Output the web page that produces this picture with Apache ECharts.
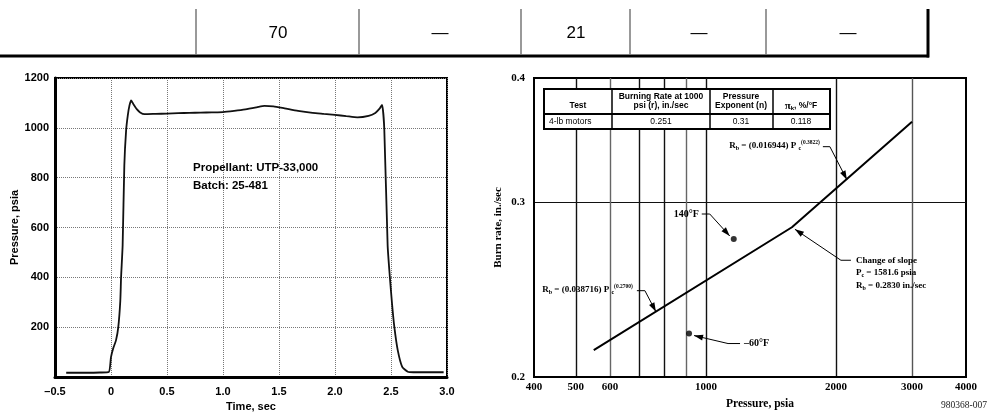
<!DOCTYPE html>
<html>
<head>
<meta charset="utf-8">
<script src="https://cdn.jsdelivr.net/npm/echarts@6/dist/echarts.min.js"></script>
<style>
  html, body { margin: 0; padding: 0; background: #fff; }
  #chart { width: 988px; height: 418px; }
</style>
</head>
<body>
<div id="chart"></div>
<script>
// Left panel: motor pressure trace
const timeSec = [-0.4, -0.3, -0.2, -0.1, -0.02, 0, 0.02, 0.045, 0.065, 0.083, 0.09, 0.104, 0.119, 0.135, 0.15, 0.165, 0.18, 0.2, 0.23, 0.26,
  0.3, 0.4, 0.5, 0.6, 0.7, 0.8, 0.9, 1.0, 1.1, 1.2, 1.3, 1.37, 1.45, 1.55, 1.67, 1.8, 1.9, 2.0, 2.1, 2.2,
  2.3, 2.36, 2.4, 2.42, 2.44, 2.47, 2.49, 2.51, 2.53, 2.56, 2.6, 2.65, 2.7, 2.8, 2.9, 2.97];
const pressurePsia = [17, 17, 17, 18, 20, 80, 115, 148, 200, 305, 400, 530, 850, 990, 1050, 1090, 1110, 1095, 1075, 1062,
  1055, 1056, 1057, 1059, 1060, 1061, 1062, 1063, 1068, 1074, 1082, 1088, 1086, 1078, 1068, 1060, 1056, 1052, 1047, 1042,
  1048, 1060, 1078, 1092, 996, 528, 400, 290, 200, 108, 41, 21, 19, 19, 19, 19];

// Right panel: burn rate vs pressure (log-log)
const burnFitP = [550, 1581.6, 3000];
const burnFitR = [0.2129, 0.2830, 0.3614];
const tempPointP = [1160, 914];
const tempPointR = [0.2754, 0.2212];
const pressureLabelTicks = [400, 500, 600, 1000, 2000, 3000, 4000];
const pressureGridTicks = [500, 600, 700, 800, 900, 1000, 2000, 3000];
const rateLabelTicks = [0.2, 0.3, 0.4];
const rateGridTicks = [0.3];

// Table fragment above the plots
const topRowValues = ['70', '—', '21', '—', '—'];

const SANS = '"Liberation Sans", Arial, sans-serif';
const SERIF = '"Liberation Serif", "Times New Roman", serif';

const chart = echarts.init(document.getElementById('chart'), null, { renderer: 'canvas' });

const leftLabel = { color: '#000', fontFamily: SANS, fontWeight: 'bold', fontSize: 11 };
const rightLabel = { color: '#000', fontFamily: SERIF, fontWeight: 'bold', fontSize: 11 };

chart.setOption({
  animation: false,
  backgroundColor: '#fff',
  grid: [
    { left: 55, top: 78, width: 392, height: 299, show: true, borderColor: '#000', borderWidth: 2 },
    { left: 534, top: 78, width: 432, height: 299, show: true, borderColor: '#000', borderWidth: 2 }
  ],
  xAxis: [
    {
      gridIndex: 0, type: 'value', min: -0.5, max: 3.0, interval: 0.5,
      name: 'Time, sec', nameLocation: 'middle', nameGap: 24,
      nameTextStyle: { ...leftLabel },
      axisLine: { onZero: false, lineStyle: { color: '#000', width: 3 } },
      axisTick: { show: false },
      axisLabel: { ...leftLabel, margin: 9, formatter: v => v === 0 ? '0' : v.toFixed(1).replace('-', '\u2013') },
      splitLine: { show: true, lineStyle: { color: '#777', type: 'dotted', width: 1 } }
    },
    {
      gridIndex: 1, type: 'log', logBase: 10, min: 400, max: 4000,
      name: 'Pressure, psia', nameLocation: 'middle', nameGap: 17,
      nameTextStyle: { ...rightLabel, fontSize: 11.5, padding: [0, 0, 0, 20] },
      axisLine: { onZero: false, lineStyle: { color: '#000', width: 2 } },
      axisTick: { show: false, customValues: pressureGridTicks },
      axisLabel: { ...rightLabel, margin: 5, customValues: pressureLabelTicks, formatter: v => String(Math.round(v)) },
      splitLine: { show: true, lineStyle: { color: ['#111', '#666', '#111', '#111', '#666', '#111', '#111', '#555'], width: 1.4 } },
      minorSplitLine: { show: false }
    }
  ],
  yAxis: [
    {
      gridIndex: 0, type: 'value', min: 0, max: 1200, interval: 200,
      name: 'Pressure, psia', nameLocation: 'middle', nameGap: 29,
      nameTextStyle: { ...leftLabel },
      axisLine: { show: true, onZero: false, lineStyle: { color: '#000', width: 3 } },
      axisTick: { show: false },
      axisLabel: { ...leftLabel, margin: 6, formatter: v => v === 0 ? '' : String(v) },
      splitLine: { show: true, lineStyle: { color: '#777', type: 'dotted', width: 1 } }
    },
    {
      gridIndex: 1, type: 'log', logBase: 10, min: 0.2, max: 0.4,
      name: 'Burn rate, in./sec', nameLocation: 'middle', nameGap: 30,
      nameTextStyle: { ...rightLabel },
      axisLine: { show: true, onZero: false, lineStyle: { color: '#000', width: 2 } },
      axisTick: { show: false, customValues: rateGridTicks },
      axisLabel: { ...rightLabel, margin: 9, customValues: rateLabelTicks, formatter: v => v.toFixed(1) },
      splitLine: { show: true, lineStyle: { color: '#111', width: 1.2 } },
      minorSplitLine: { show: false }
    }
  ],
  series: [
    {
      type: 'line', xAxisIndex: 0, yAxisIndex: 0, symbol: 'none', smooth: 0.2,
      lineStyle: { color: '#111', width: 1.8 },
      data: timeSec.map((t, i) => [t, pressurePsia[i]])
    },
    {
      type: 'line', xAxisIndex: 1, yAxisIndex: 1, symbol: 'none',
      lineStyle: { color: '#000', width: 2 },
      data: burnFitP.map((p, i) => [p, burnFitR[i]])
    },
    {
      type: 'scatter', xAxisIndex: 1, yAxisIndex: 1, symbol: 'circle', symbolSize: 6,
      itemStyle: { color: '#000' },
      data: tempPointP.map((p, i) => [p, tempPointR[i]])
    }
  ]
});

// ---- overlay: table fragment, inset table, notes and leader arrows ----
const graphics = [];

function line(x1, y1, x2, y2, color, width, z) {
  graphics.push({ type: 'line', z: z || 20, shape: { x1, y1, x2, y2 }, style: { stroke: color, lineWidth: width } });
}
function text(x, y, str, style, z) {
  graphics.push({ type: 'text', z: z || 21, x, y, style: Object.assign({ text: str, fill: '#000', verticalAlign: 'middle' }, style) });
}

// table fragment at the top
line(0, 56, 929, 56, '#000', 3);
[196, 359, 521, 630, 766].forEach(x => line(x, 9, x, 55, '#777', 1.5));
line(928, 9, 928, 57.5, '#000', 3);
const topCellCenters = [278, 440, 576, 699, 848];
topRowValues.forEach((v, i) => text(topCellCenters[i], 33, v, { font: '17px "Liberation Sans Narrow", ' + SANS, align: 'center' }));

// propellant note
text(193, 168, 'Propellant: UTP-33,000', { font: 'bold 11.5px ' + SANS, align: 'left' });
text(193, 186, 'Batch: 25-481', { font: 'bold 11.5px ' + SANS, align: 'left' });

// inset table
graphics.push({ type: 'rect', z: 18, shape: { x: 544, y: 89, width: 286, height: 40 }, style: { fill: '#fff', stroke: '#000', lineWidth: 2 } });
line(544, 114, 830, 114, '#000', 2, 19);
[612, 710, 773].forEach(x => line(x, 89, x, 129, '#000', 1.5, 19));
const th = { font: 'bold 8.5px ' + SANS, align: 'center' };
const td = { font: '8.5px ' + SANS, align: 'center' };
text(578, 106, 'Test', th);
text(661, 97, 'Burning Rate at 1000', th);
text(661, 106, 'psi (r), in./sec', th);
text(741, 97, 'Pressure', th);
text(741, 106, 'Exponent (n)', th);
graphics.push({
  type: 'text', z: 21, x: 801, y: 106,
  style: {
    text: '{p|\u03c0}{k|k}{t|, %/°F}', align: 'center', verticalAlign: 'middle',
    rich: {
      p: { font: 'bold 11px ' + SERIF, fill: '#000' },
      k: { font: 'bold 6px ' + SANS, fill: '#000', padding: [5, 0, 0, 0] },
      t: { font: 'bold 8.5px ' + SANS, fill: '#000' }
    }
  }
});
text(549, 122, '4-lb motors', Object.assign({}, td, { align: 'left' }));
text(661, 122, '0.251', td);
text(741, 122, '0.31', td);
text(801, 122, '0.118', td);

// annotation helpers (arrow tip anchored on data coordinates)
function arrowPath(pts) {
  graphics.push({ type: 'polyline', z: 20, shape: { points: pts }, style: { stroke: '#000', lineWidth: 1, fill: null } });
  const [tx, ty] = pts[pts.length - 1];
  const [sx, sy] = pts[pts.length - 2];
  const len = Math.hypot(tx - sx, ty - sy);
  const ux = (tx - sx) / len, uy = (ty - sy) / len;
  const hl = 9, hw = 3;
  const bx = tx - ux * hl, by = ty - uy * hl;
  graphics.push({
    type: 'polygon', z: 20,
    shape: { points: [[tx, ty], [bx - uy * hw, by + ux * hw], [bx + uy * hw, by - ux * hw]] },
    style: { fill: '#000' }
  });
}

const eqRich = {
  a: { font: 'bold 9px ' + SERIF, fill: '#000' },
  sub: { font: 'bold 6px ' + SERIF, fill: '#000', padding: [5, 0, 0, 0] },
  sup: { font: 'bold 5.5px ' + SERIF, fill: '#000', padding: [0, 0, 6, 0] }
};

const notes = [
  { at: [2120, 0.316], path: [[-24, -33], [-17, -33], [0, 0]], textAt: [-27, -34], align: 'right',
    text: '{a|R}{sub|b}{a| = (0.016944) P }{sub|c}{sup|(0.3822)}', rich: eqRich },
  { at: [766, 0.2327], path: [[-19, -21], [-11, -21], [0, 0]], textAt: [-23, -22], align: 'right',
    text: '{a|R}{sub|b}{a| = (0.038716) P }{sub|c}{sup|(0.2700)}', rich: eqRich },
  { at: [1581.6, 0.283], off: [3, 2], path: [[56, 31], [46, 31], [0, 0]], textAt: [61, 31], align: 'left',
    text: '{a|Change of slope}\n{a|P}{sub|c}{a| = 1581.6 psia}\n{a|R}{sub|b}{a| = 0.2830 in./sec}',
    rich: { a: { font: 'bold 9px ' + SERIF, fill: '#000', lineHeight: 12.5 }, sub: { font: 'bold 6px ' + SERIF, fill: '#000', padding: [5, 0, 0, 0], lineHeight: 12.5 } },
    vAlign: 'top', dy: -6 },
  { at: [1160, 0.2754], off: [-4, -3], path: [[-28, -22], [-20, -22], [0, 0]], textAt: [-31, -22], align: 'right',
    text: '{a|140°F}', rich: { a: { font: 'bold 10px ' + SERIF, fill: '#000' } } },
  { at: [914, 0.2212], off: [5, 2], path: [[46, 8], [34, 8], [0, 0]], textAt: [50, 8], align: 'left',
    text: '{a|\u201360°F}', rich: { a: { font: 'bold 10px ' + SERIF, fill: '#000' } } }
];

notes.forEach(n => {
  const p = chart.convertToPixel({ gridIndex: 1 }, n.at);
  const off = n.off || [0, 0];
  const tip = [p[0] + off[0], p[1] + off[1]];
  arrowPath(n.path.map(([dx, dy]) => [tip[0] + dx, tip[1] + dy]));
  graphics.push({
    type: 'text', z: 21, x: tip[0] + n.textAt[0], y: tip[1] + n.textAt[1] + (n.dy || 0),
    style: { text: n.text, rich: n.rich, align: n.align, verticalAlign: n.vAlign || 'middle' }
  });
});

// drawing number
text(987, 405, '980368-007', { font: '9.5px ' + SERIF, align: 'right', fill: '#222' });

chart.setOption({ graphic: { elements: graphics } });
</script>
</body>
</html>
